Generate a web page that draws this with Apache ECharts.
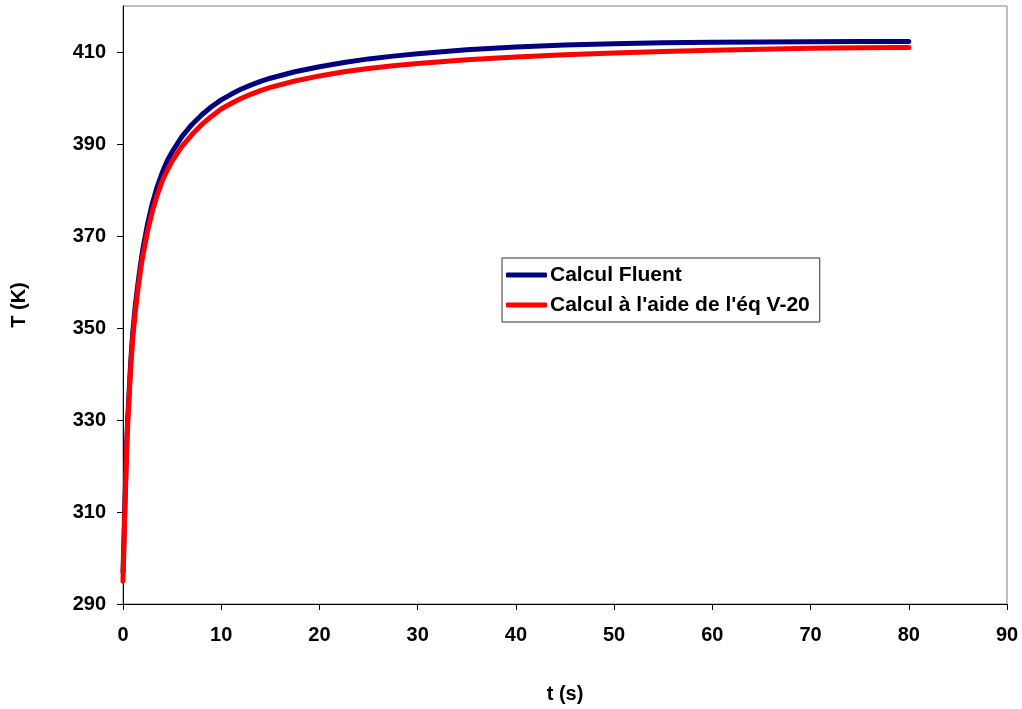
<!DOCTYPE html>
<html>
<head>
<meta charset="utf-8">
<script src="https://cdn.jsdelivr.net/npm/echarts@6/dist/echarts.min.js"></script>
<style>
html,body{margin:0;padding:0;background:#fff;}
#chart{width:1022px;height:709px;}
</style>
</head>
<body>
<div id="chart"></div>
<script>
var times = [0, 0.05, 0.1, 0.2, 0.3, 0.4, 0.5, 0.6, 0.8, 1, 1.25, 1.5, 1.75, 2, 2.5, 3, 3.5, 4, 4.5, 5, 6, 7, 8, 9, 10, 11, 12, 13, 14, 15, 17.5, 20, 22.5, 25, 27.5, 30, 35, 40, 45, 50, 55, 60, 65, 70, 75, 80];
var fluent = [297, 300.5, 304.5, 312.5, 319.5, 326.2, 331.2, 335.2, 343.2, 349.2, 354.8, 359.3, 363.3, 366.9, 372.6, 377.2, 380.8, 383.8, 386.3, 388.3, 391.6, 394.2, 396.3, 398.1, 399.6, 400.8, 401.9, 402.8, 403.6, 404.3, 405.7, 406.8, 407.7, 408.5, 409.1, 409.6, 410.5, 411.1, 411.5, 411.8, 412.0, 412.1, 412.2, 412.25, 412.3, 412.3];
var eqV20 = [295, 299, 303, 311, 318, 325, 330, 334, 342, 348, 353.5, 358, 362, 365.5, 371, 375.5, 379, 382, 384.3, 386.3, 389.5, 392, 394.2, 396, 397.6, 398.8, 399.9, 400.8, 401.6, 402.3, 403.7, 404.8, 405.7, 406.4, 407.0, 407.5, 408.3, 408.9, 409.4, 409.8, 410.1, 410.4, 410.6, 410.8, 410.9, 411.0];
var yTicks = [290, 310, 330, 350, 370, 390, 410];
var seriesNames = ['Calcul Fluent', "Calcul à l'aide de l'éq V-20"];
var xTitle = 't (s)';
var yTitle = 'T (K)';

function pairs(xs, ys) { return xs.map(function (x, i) { return [x, ys[i]]; }); }

var font = 'Liberation Sans, Arial, sans-serif';
var chart = echarts.init(document.getElementById('chart'), null, {renderer: 'canvas'});
chart.setOption({
  animation: false,
  backgroundColor: '#fff',
  grid: {left: 123, right: 15, top: 6, bottom: 104, show: true, borderColor: '#808080', borderWidth: 1, backgroundColor: 'transparent'},
  legend: {
    orient: 'vertical',
    left: 502, top: 258,
    padding: [5, 10, 5, 4],
    itemGap: 6,
    itemWidth: 41, itemHeight: 5,
    icon: 'roundRect',
    backgroundColor: '#fff',
    borderColor: '#333', borderWidth: 1,
    textStyle: {fontFamily: font, fontWeight: 'bold', fontSize: 21, lineHeight: 24, color: '#000', padding: [0, 0, 0, -2]},
    data: seriesNames
  },
  xAxis: {
    type: 'value', min: 0, max: 90, interval: 10,
    name: xTitle, nameLocation: 'middle', nameGap: 80,
    nameTextStyle: {fontFamily: font, fontWeight: 'bold', fontSize: 20, color: '#000'},
    axisLine: {show: true, lineStyle: {color: '#000', width: 1}},
    axisTick: {show: true, inside: false, length: 6, lineStyle: {color: '#000'}},
    axisLabel: {fontFamily: font, fontWeight: 'bold', fontSize: 20, color: '#000', margin: 21},
    splitLine: {show: false}
  },
  yAxis: {
    type: 'value', min: 290, max: 420, interval: 20,
    name: yTitle, nameLocation: 'middle', nameGap: 94, nameRotate: 90,
    nameTextStyle: {fontFamily: font, fontWeight: 'bold', fontSize: 20, color: '#000'},
    axisLine: {show: true, lineStyle: {color: '#000', width: 1}},
    axisTick: {show: true, inside: false, length: 6, lineStyle: {color: '#000'}, customValues: yTicks},
    axisLabel: {fontFamily: font, fontWeight: 'bold', fontSize: 20, color: '#000', margin: 17, customValues: yTicks},
    splitLine: {show: false}
  },
  series: [
    {name: seriesNames[0], type: 'line', data: pairs(times, fluent), showSymbol: false, smooth: false,
     color: '#000080', lineStyle: {color: '#000080', width: 5, cap: 'round', join: 'round'}},
    {name: seriesNames[1], type: 'line', data: pairs(times, eqV20), showSymbol: false, smooth: false,
     color: '#FF0000', lineStyle: {color: '#FF0000', width: 5, cap: 'round', join: 'round'}}
  ]
});
</script>
</body>
</html>
